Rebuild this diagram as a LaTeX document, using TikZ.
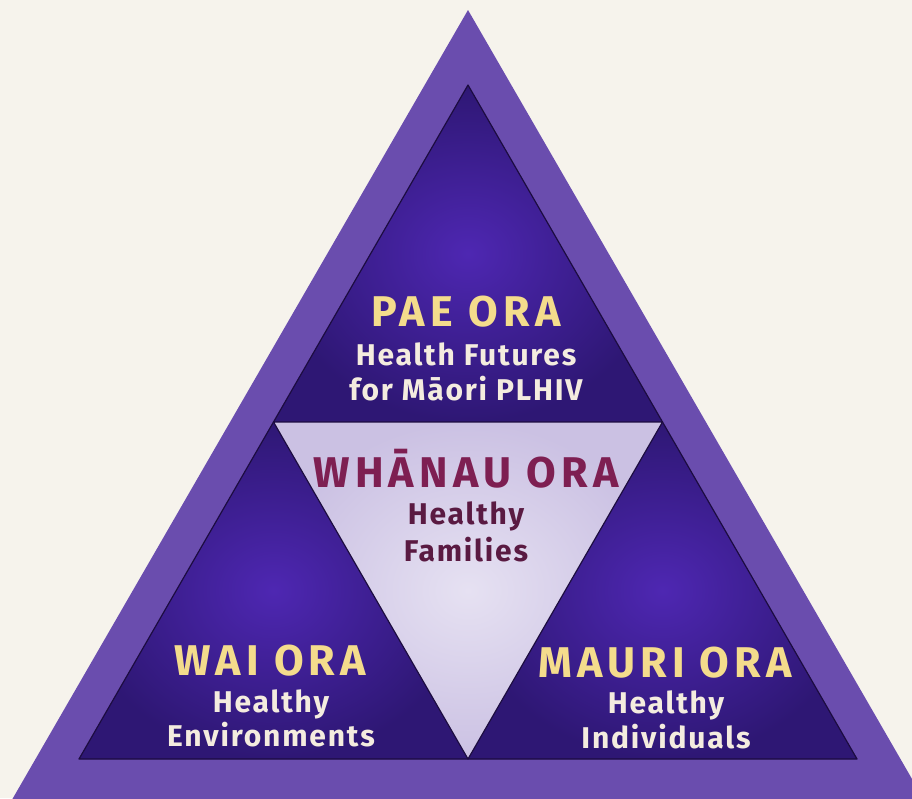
\documentclass[tikz,border=0pt]{standalone}
\usepackage{fontspec}
\setmainfont{Fira Sans}
\newfontfamily\titlefont[LetterSpace=12]{Fira Sans}
\newfontfamily\subfont[LetterSpace=6]{Fira Sans}
\usepackage{tikz}
\definecolor{cream}{HTML}{F6F3EC}
\definecolor{bandpurple}{HTML}{6A4DAE}
\definecolor{deeppurple}{HTML}{2E1774}
\definecolor{midpurple}{HTML}{4E27B2}
\definecolor{lavender}{HTML}{CBC1E3}
\definecolor{palelav}{HTML}{E6E1F2}
\definecolor{gold}{HTML}{F4DC8C}
\definecolor{creamtext}{HTML}{F4ECDF}
\definecolor{berry}{HTML}{7E1F52}
\definecolor{plum}{HTML}{5A1A42}
\definecolor{edgeline}{HTML}{1C0C40}

\begin{document}
\begin{tikzpicture}[x=1pt,y=-1pt,
  title/.style={font=\titlefont\fontsize{43}{43}\selectfont\bfseries,anchor=base},
  sub/.style={font=\subfont\fontsize{30}{30}\selectfont\bfseries,anchor=base},
  edge/.style={draw=edgeline,line width=1.2pt,line join=round}]
\useasboundingbox (0,0) rectangle (912,798);
\fill[cream] (0,0) rectangle (912,798);
\begin{scope}
\clip (0,0) rectangle (912,798);
\fill[bandpurple] (468,10) -- (0.3,820) -- (935.7,820) -- cycle;
\end{scope}
\coordinate (apex) at (468,85);
\coordinate (bl) at (79,759);
\coordinate (br) at (857,759);
\coordinate (ml) at (273.5,422);
\coordinate (mr) at (662.5,422);
\coordinate (mb) at (468,759);
\shade[inner color=midpurple,outer color=deeppurple] (apex) -- (ml) -- (mr) -- cycle;
\shade[inner color=midpurple,outer color=deeppurple] (ml) -- (bl) -- (mb) -- cycle;
\shade[inner color=midpurple,outer color=deeppurple] (mr) -- (mb) -- (br) -- cycle;
\shade[inner color=palelav,outer color=lavender] (ml) -- (mr) -- (mb) -- cycle;
\draw[edge] (apex) -- (bl) -- (br) -- cycle;
\draw[edge] (ml) -- (mr) -- (mb) -- cycle;
\node[title,text=gold] (paeora) at (466,326) {PAE ORA};
\node[sub,text=creamtext] (paefutures) at (466,365) {Health Futures};
\node[sub,text=creamtext] (paeplhiv) at (466,400) {for Māori PLHIV};
\node[title,text=berry] (whanauora) at (466,487) {WHĀNAU ORA};
\node[sub,text=plum] (whanauhealthy) at (466,524) {Healthy};
\node[sub,text=plum] (whanaufamilies) at (466,561) {Families};
\node[title,text=gold] (waiora) at (270,675) {WAI ORA};
\node[sub,text=creamtext] (waihealthy) at (271,712) {Healthy};
\node[sub,text=creamtext] (waienv) at (271,746) {Environments};
\node[title,text=gold] (mauriora) at (665,677) {MAURI ORA};
\node[sub,text=creamtext] (maurihealthy) at (666,713) {Healthy};
\node[sub,text=creamtext] (mauriind) at (666,748) {Individuals};
\end{tikzpicture}
\end{document}
